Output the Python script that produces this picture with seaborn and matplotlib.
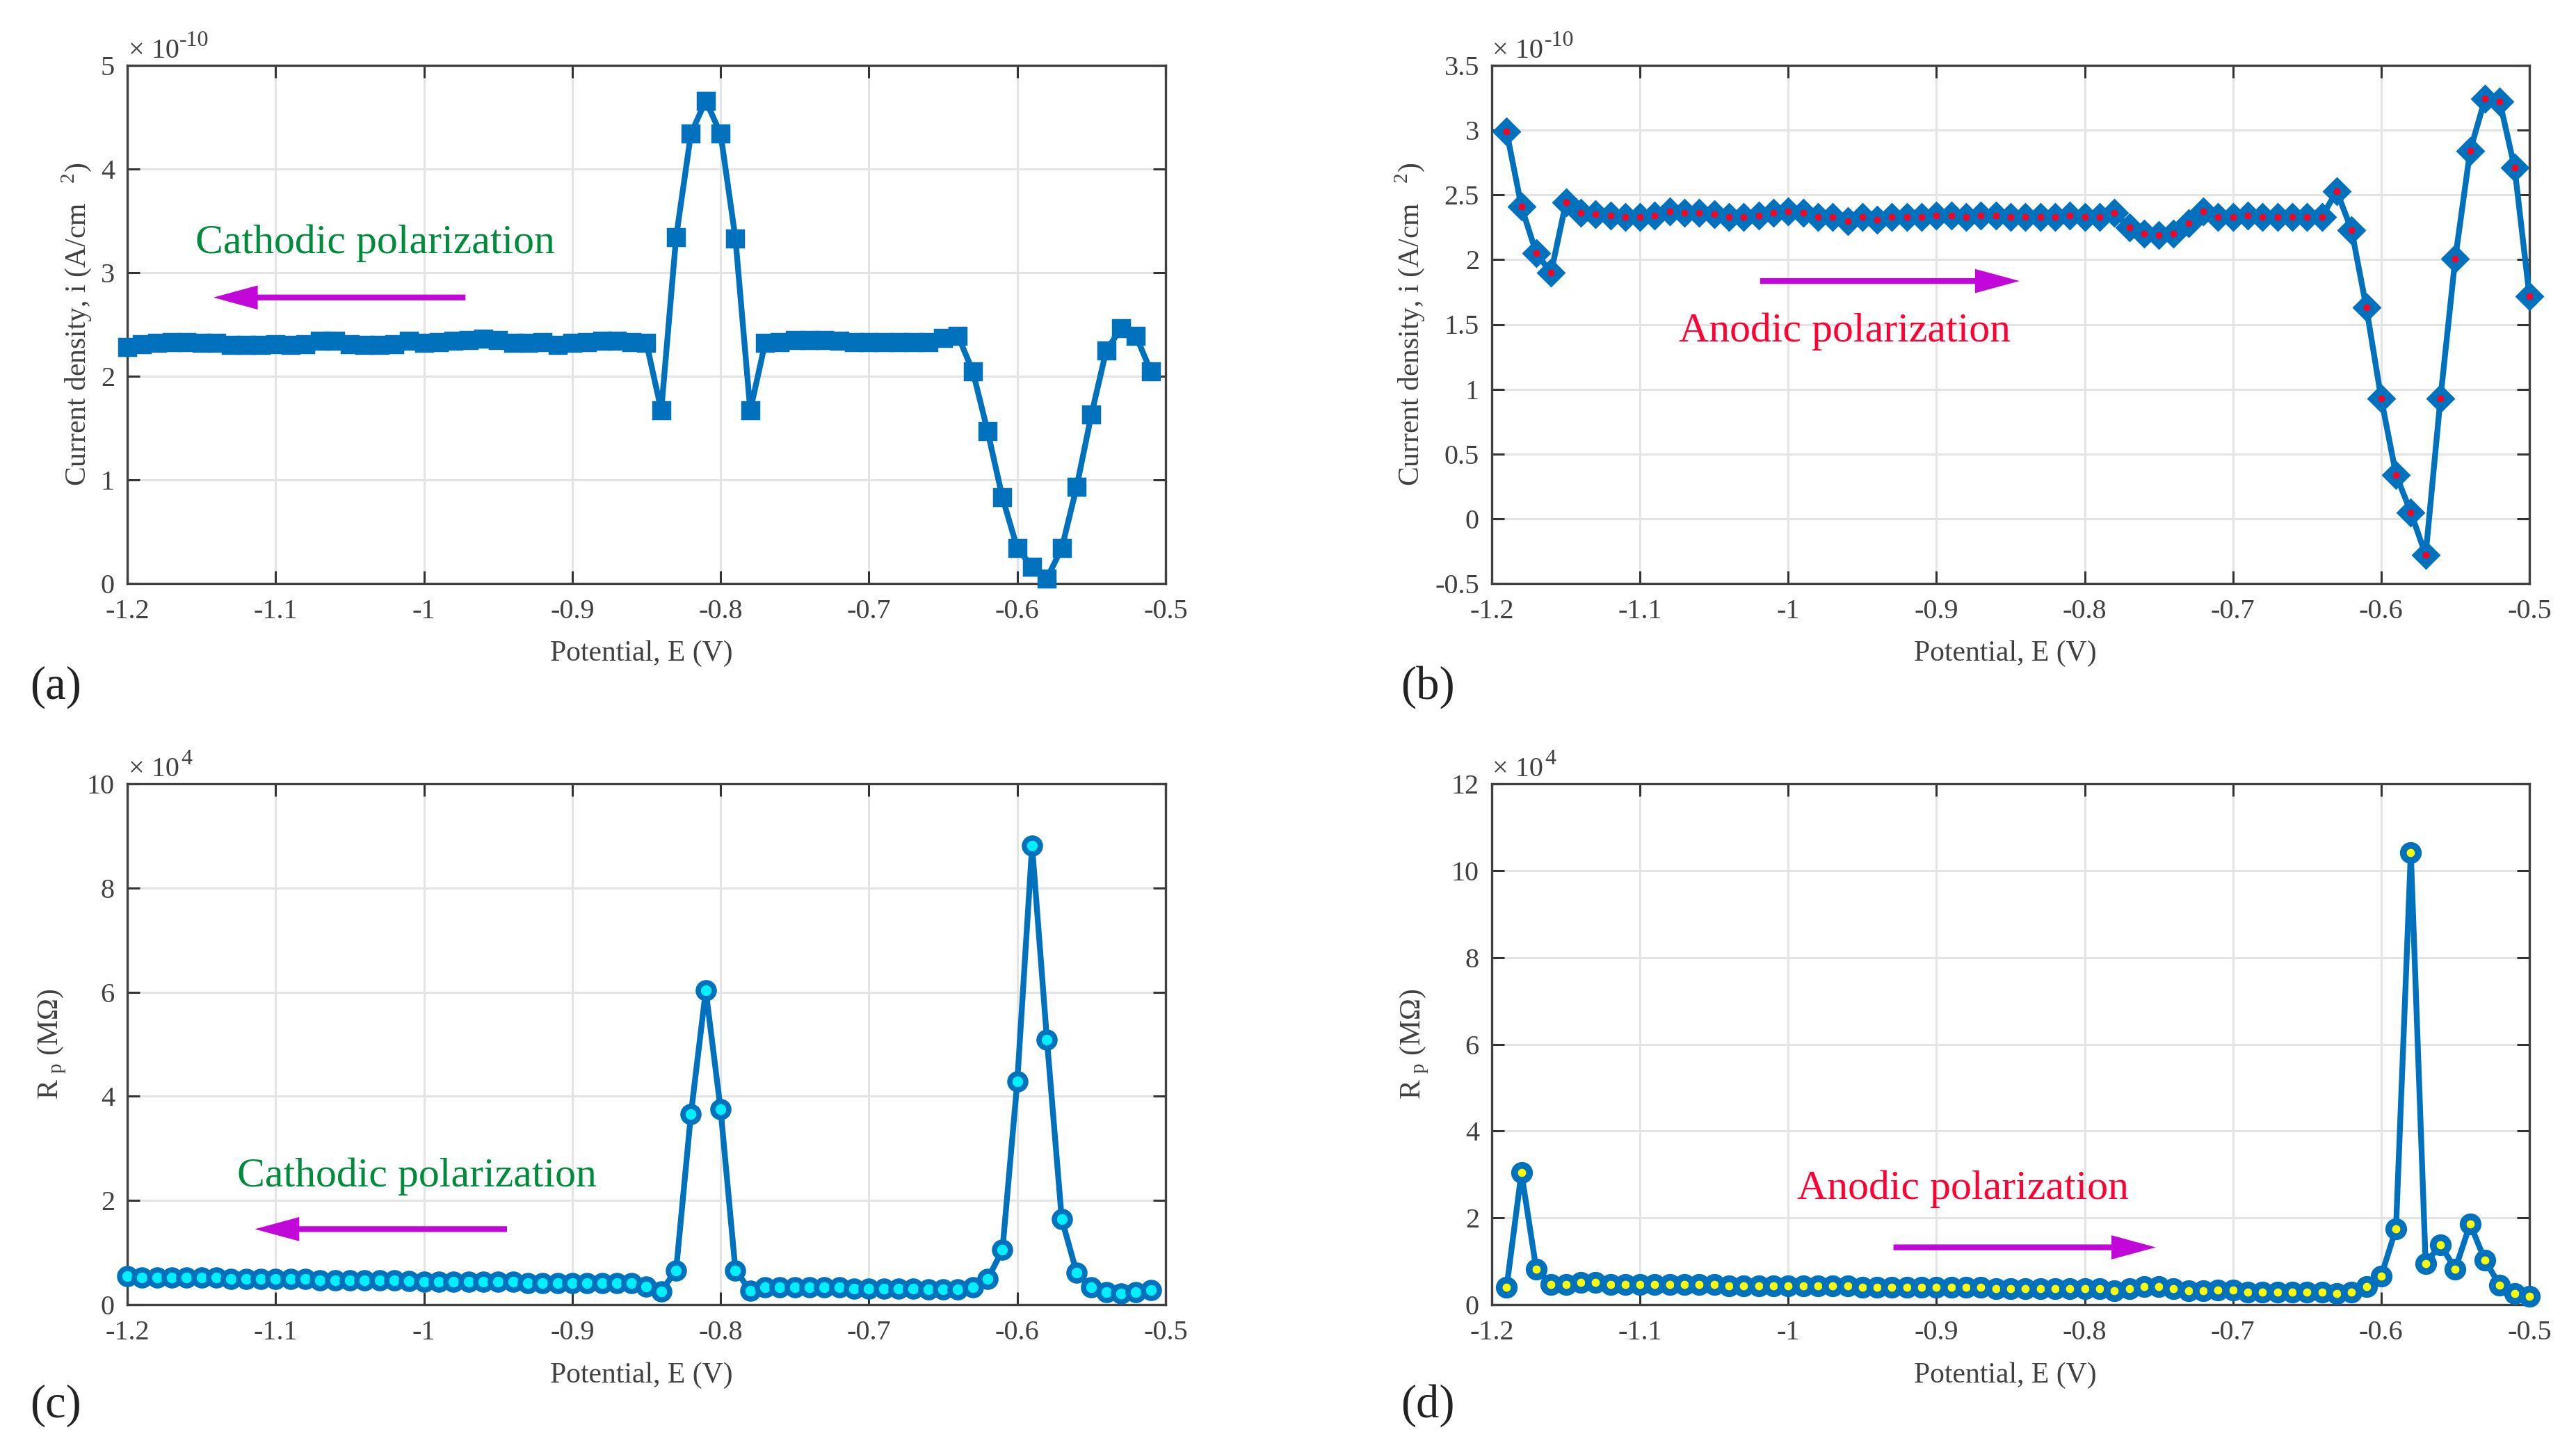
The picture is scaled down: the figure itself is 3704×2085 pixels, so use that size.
import matplotlib
matplotlib.use('Agg')
import matplotlib.pyplot as plt
import seaborn as sns

W, H = 3704, 2085

# potential axes (V)
x_cathodic = [-1.20, -1.19, -1.18, -1.17, -1.16, -1.15, -1.14, -1.13, -1.12, -1.11,
              -1.10, -1.09, -1.08, -1.07, -1.06, -1.05, -1.04, -1.03, -1.02, -1.01,
              -1.00, -0.99, -0.98, -0.97, -0.96, -0.95, -0.94, -0.93, -0.92, -0.91,
              -0.90, -0.89, -0.88, -0.87, -0.86, -0.85, -0.84, -0.83, -0.82, -0.81,
              -0.80, -0.79, -0.78, -0.77, -0.76, -0.75, -0.74, -0.73, -0.72, -0.71,
              -0.70, -0.69, -0.68, -0.67, -0.66, -0.65, -0.64, -0.63, -0.62, -0.61,
              -0.60, -0.59, -0.58, -0.57, -0.56, -0.55, -0.54, -0.53, -0.52, -0.51]
x_anodic = [-1.19, -1.18, -1.17, -1.16, -1.15, -1.14, -1.13, -1.12, -1.11, -1.10,
            -1.09, -1.08, -1.07, -1.06, -1.05, -1.04, -1.03, -1.02, -1.01, -1.00,
            -0.99, -0.98, -0.97, -0.96, -0.95, -0.94, -0.93, -0.92, -0.91, -0.90,
            -0.89, -0.88, -0.87, -0.86, -0.85, -0.84, -0.83, -0.82, -0.81, -0.80,
            -0.79, -0.78, -0.77, -0.76, -0.75, -0.74, -0.73, -0.72, -0.71, -0.70,
            -0.69, -0.68, -0.67, -0.66, -0.65, -0.64, -0.63, -0.62, -0.61, -0.60,
            -0.59, -0.58, -0.57, -0.56, -0.55, -0.54, -0.53, -0.52, -0.51, -0.50]

# current density (x 1e-10 A/cm2)
i_cathodic = [2.28, 2.31, 2.32, 2.33, 2.33, 2.32, 2.32, 2.30, 2.30, 2.30,
              2.31, 2.30, 2.31, 2.34, 2.34, 2.31, 2.30, 2.30, 2.31, 2.34,
              2.32, 2.33, 2.34, 2.35, 2.36, 2.35, 2.32, 2.32, 2.33, 2.30,
              2.32, 2.33, 2.34, 2.34, 2.33, 2.32, 1.67, 3.34, 4.34, 4.66,
              4.34, 3.33, 1.67, 2.32, 2.33, 2.35, 2.35, 2.35, 2.34, 2.33,
              2.33, 2.33, 2.33, 2.33, 2.33, 2.37, 2.39, 2.05, 1.47, 0.83,
              0.34, 0.16, 0.05, 0.34, 0.93, 1.63, 2.25, 2.46, 2.39, 2.05]
i_anodic = [2.99, 2.41, 2.05, 1.90, 2.44, 2.36, 2.35, 2.34, 2.33, 2.33,
            2.34, 2.37, 2.36, 2.36, 2.35, 2.33, 2.33, 2.34, 2.36, 2.37,
            2.36, 2.33, 2.33, 2.30, 2.33, 2.31, 2.33, 2.33, 2.33, 2.34,
            2.34, 2.33, 2.34, 2.34, 2.33, 2.33, 2.33, 2.33, 2.34, 2.33,
            2.33, 2.36, 2.25, 2.20, 2.19, 2.20, 2.28, 2.37, 2.33, 2.33,
            2.34, 2.33, 2.33, 2.33, 2.33, 2.33, 2.53, 2.23, 1.63, 0.93,
            0.34, 0.05, -0.28, 0.93, 2.01, 2.84, 3.24, 3.22, 2.71, 1.72]

# polarization resistance (x 1e4)
rp_cathodic = [0.55, 0.52, 0.52, 0.52, 0.52, 0.52, 0.52, 0.49, 0.49, 0.49,
               0.49, 0.49, 0.49, 0.47, 0.47, 0.47, 0.47, 0.47, 0.47, 0.46,
               0.44, 0.44, 0.44, 0.44, 0.44, 0.44, 0.44, 0.42, 0.42, 0.42,
               0.41, 0.41, 0.41, 0.41, 0.41, 0.35, 0.26, 0.66, 3.66, 6.03,
               3.75, 0.66, 0.27, 0.33, 0.33, 0.33, 0.33, 0.33, 0.33, 0.31,
               0.31, 0.31, 0.31, 0.31, 0.29, 0.29, 0.29, 0.33, 0.49, 1.05,
               4.28, 8.81, 5.09, 1.64, 0.62, 0.33, 0.24, 0.21, 0.24, 0.28]
rp_anodic = [0.40, 3.04, 0.82, 0.47, 0.47, 0.51, 0.51, 0.47, 0.47, 0.47,
             0.47, 0.47, 0.47, 0.47, 0.47, 0.43, 0.43, 0.43, 0.43, 0.43,
             0.43, 0.43, 0.43, 0.43, 0.40, 0.40, 0.40, 0.40, 0.40, 0.40,
             0.40, 0.40, 0.40, 0.37, 0.37, 0.37, 0.37, 0.37, 0.37, 0.37,
             0.37, 0.32, 0.37, 0.41, 0.41, 0.37, 0.32, 0.32, 0.34, 0.34,
             0.29, 0.29, 0.29, 0.29, 0.29, 0.29, 0.25, 0.29, 0.41, 0.66,
             1.75, 10.42, 0.95, 1.38, 0.82, 1.86, 1.02, 0.45, 0.25, 0.19]

x_ticks = [-1.2, -1.1, -1.0, -0.9, -0.8, -0.7, -0.6, -0.5]
x_tick_labels = ['-1.2', '-1.1', '-1', '-0.9', '-0.8', '-0.7', '-0.6', '-0.5']
yticks_a = [0, 1, 2, 3, 4, 5]
yticks_b = [-0.5, 0, 0.5, 1, 1.5, 2, 2.5, 3, 3.5]
yticks_c = [0, 2, 4, 6, 8, 10]
yticks_d = [0, 2, 4, 6, 8, 10, 12]
ylabels_b = ['-0.5', '0', '0.5', '1', '1.5', '2', '2.5', '3', '3.5']

BLUE = '#0072BD'
GREY = '#404040'
PURPLE = '#C208D8'
GREEN = '#008A3C'
RED = '#FF0033'

sns.set_theme(style='whitegrid')
plt.rcParams['font.family'] = ['Liberation Serif', 'DejaVu Serif']
plt.rcParams['mathtext.fontset'] = 'custom'
plt.rcParams['mathtext.rm'] = 'Liberation Serif'

fig = plt.figure(figsize=(W / 100, H / 100), dpi=100, facecolor='white')


def make_axes(left, top, right, bottom):
    return fig.add_axes([left / W, 1 - bottom / H, (right - left) / W, (bottom - top) / H])


def finish(ax, yticks, ylabels, ylim, ylabel, ylab_x):
    ax.set_xlim(-1.2, -0.5)
    ax.set_ylim(*ylim)
    ax.set_xticks(x_ticks, x_tick_labels)
    ax.set_yticks(yticks, ylabels)
    ax.set_axisbelow(True)
    ax.grid(True, color='#E4E4E4', linewidth=2.2)
    ax.tick_params(axis='both', which='major', direction='in', length=13, width=2.2,
                   color='#333333', labelsize=29, labelcolor=GREY, top=True, right=True,
                   bottom=True, left=True)
    ax.tick_params(axis='x', pad=16)
    ax.tick_params(axis='y', pad=13)
    for s in ax.spines.values():
        s.set_color(GREY)
        s.set_linewidth(2.4)
        s.set_zorder(1.5)
    ax.set_xlabel('Potential, E (V)', fontsize=30, color=GREY)
    ax.set_ylabel(ylabel, fontsize=30, color=GREY)
    ax.xaxis.set_label_coords(0.495, -0.110)
    ax.yaxis.set_label_coords(ylab_x, 0.5)


def arrow(ax, tail, tip, y):
    ax.annotate('', xy=(tip, y), xytext=(tail, y),
                arrowprops=dict(width=6, headwidth=25, headlength=46, color=PURPLE,
                                shrink=0, linewidth=0))


def corner(ax_left, ax_top, power, sup_left):
    fig.text(ax_left / W, 1 - (ax_top - 11) / H, '\u00d7 10', fontsize=29, color=GREY,
             ha='left', va='baseline')
    fig.text(sup_left / W, 1 - (ax_top - 28) / H, power, fontsize=23, color=GREY,
             ha='left', va='baseline')


I_LABEL = r'Current density, i (A/cm$^{\ \ \ 2}$)'
RP_LABEL = r'R$_{\ \mathrm{p}}$ (M$\mathrm{\Omega}$)'

# (a)
ax_a = make_axes(183, 94, 1676, 839)
sns.lineplot(x=x_cathodic, y=i_cathodic, ax=ax_a, color=BLUE, linewidth=6, marker='s',
             markersize=17, markerfacecolor=BLUE, markeredgecolor=BLUE, markeredgewidth=2.5,
             clip_on=False, errorbar=None, legend=False, sort=False, zorder=3)
finish(ax_a, yticks_a, yticks_a, (0, 5), I_LABEL, -0.033)
arrow(ax_a, -0.972, -1.142, 2.76)
ax_a.text(-1.154, 3.19, 'Cathodic polarization', fontsize=43, color=GREEN, va='baseline')
corner(185, 94, '-10', 258)

# (b)
ax_b = make_axes(2145, 94, 3637, 839)
sns.lineplot(x=x_anodic, y=i_anodic, ax=ax_b, color=BLUE, linewidth=6, marker='D',
             markersize=19, markerfacecolor=BLUE, markeredgecolor=BLUE, markeredgewidth=2,
             clip_on=False, errorbar=None, legend=False, sort=False, zorder=3)
sns.scatterplot(x=x_anodic, y=i_anodic, ax=ax_b, color='#FF0022', s=50, linewidth=0,
                clip_on=False, legend=False, zorder=4)
finish(ax_b, yticks_b, ylabels_b, (-0.5, 3.5), I_LABEL, -0.063)
arrow(ax_b, -1.019, -0.844, 1.835)
ax_b.text(-1.074, 1.37, 'Anodic polarization', fontsize=43, color=RED, va='baseline')
corner(2146, 94, '-10', 2221)

# (c)
ax_c = make_axes(183, 1127, 1676, 1876)
sns.lineplot(x=x_cathodic, y=rp_cathodic, ax=ax_c, color=BLUE, linewidth=6, marker='o',
             markersize=16.5, markerfacecolor='#00F0FF', markeredgecolor=BLUE, markeredgewidth=5.5,
             clip_on=False, errorbar=None, legend=False, sort=False, zorder=3)
finish(ax_c, yticks_c, yticks_c, (0, 10), RP_LABEL, -0.057)
arrow(ax_c, -0.944, -1.114, 1.45)
ax_c.text(-1.126, 2.27, 'Cathodic polarization', fontsize=43, color=GREEN, va='baseline')
corner(185, 1127, '4', 260)

# (d)
ax_d = make_axes(2145, 1127, 3637, 1876)
sns.lineplot(x=x_anodic, y=rp_anodic, ax=ax_d, color=BLUE, linewidth=6, marker='o',
             markersize=15.5, markerfacecolor='#FFFF00', markeredgecolor=BLUE, markeredgewidth=7,
             clip_on=False, errorbar=None, legend=False, sort=False, zorder=3)
finish(ax_d, yticks_d, yticks_d, (0, 12), RP_LABEL, -0.059)
arrow(ax_d, -0.929, -0.752, 1.32)
ax_d.text(-0.994, 2.44, 'Anodic polarization', fontsize=43, color=RED, va='baseline')
corner(2146, 1127, '4', 2221)

# panel letters
for letter, px, py in [('(a)', 43, 988), ('(b)', 2014, 988), ('(c)', 43, 2021), ('(d)', 2014, 2021)]:
    fig.text(px / W, 1 - py / H, letter, fontsize=48, color='#222222', ha='left', va='center')

fig.savefig('out.png', dpi=100, facecolor='white')
